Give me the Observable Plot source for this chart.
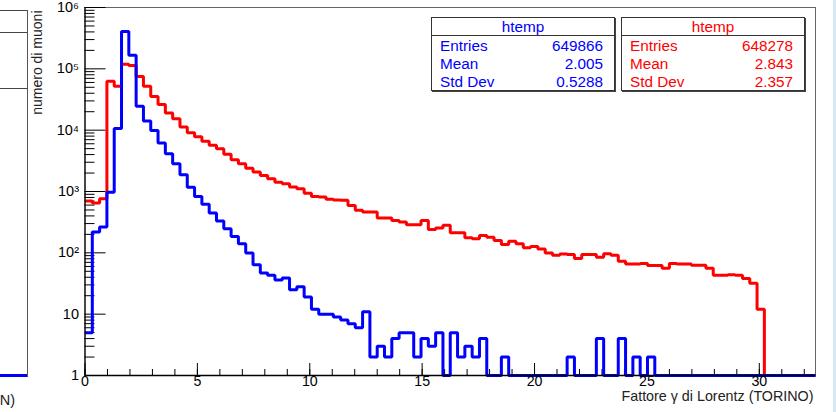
<!DOCTYPE html>
<html><head><meta charset="utf-8">
<script src="https://cdn.jsdelivr.net/npm/d3@7"></script>
<script src="https://cdn.jsdelivr.net/npm/@observablehq/plot@0.6"></script>
<style>
html,body{margin:0;padding:0;background:#fff;}
#wrap{position:relative;width:836px;height:412px;overflow:hidden;font-family:"Liberation Sans",Arial,Helvetica,sans-serif;}
#wrap svg{position:absolute;left:0;top:0;}
.stat{position:absolute;box-sizing:border-box;border:1px solid #333;background:#fff;box-shadow:1px 1px 0 #444;font-size:15.3px;}
.stat .title{position:absolute;left:0;right:0;top:0;height:17px;border-bottom:1px solid #333;text-align:center;line-height:17px;}
.stat .row{position:absolute;left:8px;right:11px;height:18px;line-height:18px;}
.stat .row .v{position:absolute;right:0;top:0;}
.deco{position:absolute;}
</style></head>
<body><div id="wrap"></div>
<script>
// ---- data ----
const xMax = 32.5;   // histogram upper edge (100 bins)
const redCounts = [700,650,765,63000,52000,119000,113000,75000,52000,35500,
  26300,19000,15400,11300,9100,7800,6600,5650,5000,4050,
  3300,2830,2400,2080,1830,1620,1420,1340,1180,1110,
  940,830,810,745,725,720,590,495,462,462,
  370,370,337,317,287,287,337,241,253,281,
  213,213,176,170,192,180,159,137,154,141,
  121,127,116,99,91,96,94,81,94,94,
  85,97,91,73,66,66,67,62,62,56,
  67,66,66,63,63,56,43,43,44,43,
  38,32,12,0,0,0,0,0,0,0];
const blueCounts = [5,218,263,970,10600,405000,167000,24500,14100,9900,
  6200,4140,2830,1870,1170,830,617,445,330,246,
  185,141,99,64,47,43,36,39,25,28,
  19,12,10,10,9,8,7,6,11,2,
  3,2,4,5,5,2,4,3,5,0,
  5,2,3,2,4,0,0,2,0,0,
  0,0,0,0,0,0,2,0,0,0,
  4,0,0,4,0,2,0,2,0,0,
  0,0,0,0,0,0,0,0,0,0,
  0,0,0,0,0,0,0,0,0,0];
const xMajorTicks = [0,5,10,15,20,25,30];
const xMinorTicks = d3.range(0, 33, 1);
const yMajorTicks = [1,10,100,1000,10000,100000,1000000];
const yTickLabels = ["1","10","10\u00b2","10\u00b3","10\u2074","10\u2075","10\u2076"];
const yMinorTicks = d3.range(0,6).flatMap(k => d3.range(2,10).map(m => m * Math.pow(10,k)));
const statTitle = "htemp";
const statLabels = ["Entries","Mean","Std Dev"];
const blueStats = ["649866","2.005","0.5288"];
const redStats = ["648278","2.843","2.357"];
const xTitle = "Fattore \u03b3 di Lorentz (TORINO)";
const yTitle = "numero di muoni";
const neighbourTitleEnd = "N)";

// ---- build step series ----
function steps(counts) {
  const bw = xMax / counts.length;
  const pts = counts.map((v, i) => ({x: i * bw, y: Math.max(v, 1)}));
  pts.push({x: counts.length * bw, y: Math.max(counts[counts.length - 1], 1)});
  return pts;
}
const W = 836, H = 412, mL = 84.5, mR = 21, mT = 7, mB = 37;
const plotW = W - mL - mR, plotH = H - mT - mB;

const chart = Plot.plot({
  width: W, height: H,
  marginLeft: mL, marginRight: mR, marginTop: mT, marginBottom: mB,
  style: {fontFamily: "'Liberation Sans', Arial, sans-serif", fontSize: "14px", background: "transparent", color: "black"},
  x: {domain: [0, xMax], axis: null},
  y: {type: "log", domain: [1, 1e6], axis: null},
  marks: [
    Plot.frame({stroke: "#666", strokeWidth: 1}),
    Plot.tickX(xMinorTicks, {x: d => d, insetTop: plotH - 6, stroke: "black"}),
    Plot.tickX(xMajorTicks, {x: d => d, insetTop: plotH - 12, stroke: "black"}),
    Plot.tickY(yMinorTicks, {y: d => d, insetRight: plotW - 10, stroke: "black"}),
    Plot.tickY(yMajorTicks, {y: d => d, insetRight: plotW - 21, stroke: "black"}),
    Plot.line(steps(redCounts), {x: "x", y: "y", curve: "step-after", stroke: "#ff0000", strokeWidth: 3, strokeLinejoin: "miter", strokeLinecap: "butt"}),
    Plot.line(steps(blueCounts), {x: "x", y: "y", curve: "step-after", stroke: "#0000ff", strokeWidth: 3, strokeLinejoin: "miter", strokeLinecap: "butt"}),
    Plot.ruleX([0], {stroke: "black", strokeWidth: 1.2}),
    Plot.ruleY([1], {stroke: "black", strokeWidth: 1.5}),
    Plot.text(xMajorTicks, {x: d => d, frameAnchor: "bottom", dy: 10.6, text: d => String(d), fontSize: 14.2, fill: "black"}),
    Plot.text(yMajorTicks, {y: d => d, frameAnchor: "left", textAnchor: "end", dx: -6, text: (d, i) => yTickLabels[i], fontSize: 14.5, fill: "black"}),
    Plot.text([xTitle], {frameAnchor: "bottom-right", textAnchor: "end", dx: -2, dy: 25.6, text: d => d, fontSize: 14.3, fill: "#222"}),
    Plot.text([yTitle], {frameAnchor: "top-left", textAnchor: "end", rotate: -90, dx: -53, dy: 3, text: d => d, fontSize: 14, fill: "#222"})
  ]
});
const wrap = document.getElementById("wrap");
wrap.appendChild(chart);

// ---- stat boxes ----
function statBox(left, color, values) {
  const box = document.createElement("div");
  box.className = "stat";
  Object.assign(box.style, {left: left + "px", top: "17px", width: "184px", height: "74px", color});
  const t = document.createElement("div");
  t.className = "title"; t.textContent = statTitle;
  box.appendChild(t);
  statLabels.forEach((lab, i) => {
    const r = document.createElement("div");
    r.className = "row";
    r.style.top = (19 + i * 18) + "px";
    const a = document.createElement("span"); a.textContent = lab;
    const b = document.createElement("span"); b.className = "v"; b.textContent = values[i];
    r.appendChild(a); r.appendChild(b);
    box.appendChild(r);
  });
  wrap.appendChild(box);
}
statBox(431, "#0000ff", blueStats);
statBox(621, "#ff0000", redStats);

// ---- neighbouring pad remnants ----
function deco(styles, text) {
  const d = document.createElement("div");
  d.className = "deco";
  Object.assign(d.style, styles);
  if (text) d.textContent = text;
  wrap.appendChild(d);
  return d;
}
deco({left: "27px", top: "10px", width: "1px", height: "367px", background: "#555"});
deco({left: "0px", top: "10px", width: "27px", height: "1px", background: "#444"});
deco({left: "0px", top: "32px", width: "27px", height: "1px", background: "#444"});
deco({left: "0px", top: "88px", width: "28px", height: "1px", background: "#444"});
deco({left: "0px", top: "374px", width: "27px", height: "3px", background: "#0000ff"});
deco({left: "-20px", top: "392px", width: "35px", textAlign: "right", fontSize: "14.5px", color: "#222", lineHeight: "16px"}, neighbourTitleEnd);
deco({left: "833px", top: "0px", width: "3px", height: "412px", background: "#d6e6f4"});
</script>
</body></html>
